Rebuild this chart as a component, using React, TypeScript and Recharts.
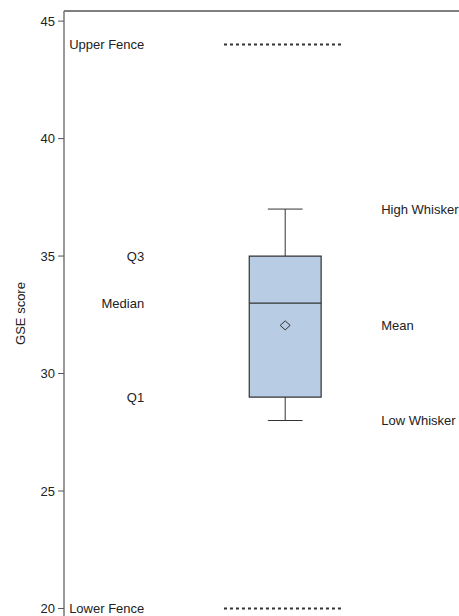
import * as React from "react";
import {
  ComposedChart,
  XAxis,
  YAxis,
  ReferenceLine,
  ReferenceArea,
  Scatter,
  Label
} from "recharts";

// box plot summary of the GSE scores
const boxStats = {
  lowWhisker: 28,
  q1: 29,
  median: 33,
  mean: 32.05,
  q3: 35,
  highWhisker: 37
};
const fenceValues = [20, 44];
const fenceNames = ["Lower Fence", "Upper Fence"];
const leftNames = ["Q1", "Median", "Q3"];
const leftValues = [29, 33, 35];
const rightNames = ["Low Whisker", "Mean", "High Whisker"];
const rightValues = [28, 32.05, 37];
const yTicks = [20, 25, 30, 35, 40, 45];

const Y_MIN = 19.68;
const Y_MAX = 45.43;

// horizontal layout (x axis runs 0..100, hidden)
const BOX_X = 56;
const BOX_HALF = 9.1;
const CAP_HALF = 4.4;
const FENCE_X1 = 40.5;
const FENCE_X2 = 70.4;
const LEFT_X = 20.3;
const FENCE_LABEL_X = 1.3;
const RIGHT_X = 80.3;

const FONT = "'Liberation Sans', Arial, sans-serif";
const INK = "#333";

const fenceLabels = fenceNames.map((name, i) => ({ x: FENCE_LABEL_X, y: fenceValues[i], name }));
const leftLabels = leftNames.map((name, i) => ({ x: LEFT_X, y: leftValues[i], name }));
const rightLabels = rightNames.map((name, i) => ({ x: RIGHT_X, y: rightValues[i], name }));
const meanPoint = [{ x: BOX_X, y: boxStats.mean }];

const textShape = (anchor: "start" | "end") => (props: any) => (
  <text
    x={props.cx}
    y={props.cy}
    textAnchor={anchor}
    dominantBaseline="central"
    fontSize={13}
    fontFamily={FONT}
    fill="#222"
  >
    {props.payload.name}
  </text>
);

const diamond = (props: any) => {
  const { cx, cy } = props;
  const w = 5;
  const h = 4.5;
  return (
    <path
      d={`M${cx},${cy - h} L${cx + w},${cy} L${cx},${cy + h} L${cx - w},${cy} Z`}
      fill="none"
      stroke={INK}
      strokeWidth={1}
    />
  );
};

const App: React.FunctionComponent = () => {
  return (
    <div style={{ position: "absolute", left: 0, top: 0 }}>
      <ComposedChart
        width={459}
        height={616}
        margin={{ top: 11, right: 0, left: 0, bottom: 0 }}
      >
        <XAxis type="number" dataKey="x" domain={[0, 100]} hide />
        <YAxis
          type="number"
          dataKey="y"
          width={64}
          domain={[Y_MIN, Y_MAX]}
          ticks={yTicks}
          interval={0}
          allowDataOverflow
          tickSize={6}
          tickMargin={3}
          axisLine={{ stroke: "#777", strokeWidth: 1.5 }}
          tickLine={{ stroke: "#555" }}
          tick={{ fontSize: 13, fill: "#222", fontFamily: FONT }}
        >
          <Label
            value="GSE score"
            angle={-90}
            position="insideLeft"
            offset={20}
            style={{ textAnchor: "middle", fontSize: 13, fill: "#222", fontFamily: FONT }}
          />
        </YAxis>

        <ReferenceLine y={Y_MAX} stroke="#555" strokeWidth={1.5} />

        {/* fences */}
        {fenceValues.map(v => (
          <ReferenceLine
            key={v}
            segment={[{ x: FENCE_X1, y: v }, { x: FENCE_X2, y: v }]}
            stroke={INK}
            strokeWidth={2}
            strokeDasharray="3 3"
          />
        ))}

        {/* whiskers */}
        <ReferenceLine
          segment={[{ x: BOX_X, y: boxStats.q3 }, { x: BOX_X, y: boxStats.highWhisker }]}
          stroke={INK}
        />
        <ReferenceLine
          segment={[{ x: BOX_X, y: boxStats.lowWhisker }, { x: BOX_X, y: boxStats.q1 }]}
          stroke={INK}
        />
        <ReferenceLine
          segment={[
            { x: BOX_X - CAP_HALF, y: boxStats.highWhisker },
            { x: BOX_X + CAP_HALF, y: boxStats.highWhisker }
          ]}
          stroke={INK}
        />
        <ReferenceLine
          segment={[
            { x: BOX_X - CAP_HALF, y: boxStats.lowWhisker },
            { x: BOX_X + CAP_HALF, y: boxStats.lowWhisker }
          ]}
          stroke={INK}
        />

        {/* box */}
        <ReferenceArea
          x1={BOX_X - BOX_HALF}
          x2={BOX_X + BOX_HALF}
          y1={boxStats.q1}
          y2={boxStats.q3}
          fill="#b8cce4"
          fillOpacity={1}
          stroke={INK}
          strokeWidth={1.2}
        />
        <ReferenceLine
          segment={[
            { x: BOX_X - BOX_HALF, y: boxStats.median },
            { x: BOX_X + BOX_HALF, y: boxStats.median }
          ]}
          stroke={INK}
          strokeWidth={1.2}
        />

        <Scatter data={meanPoint} shape={diamond} isAnimationActive={false} />

        <Scatter data={fenceLabels} shape={textShape("start")} isAnimationActive={false} />
        <Scatter data={leftLabels} shape={textShape("end")} isAnimationActive={false} />
        <Scatter data={rightLabels} shape={textShape("start")} isAnimationActive={false} />
      </ComposedChart>
    </div>
  );
};

export default App;
